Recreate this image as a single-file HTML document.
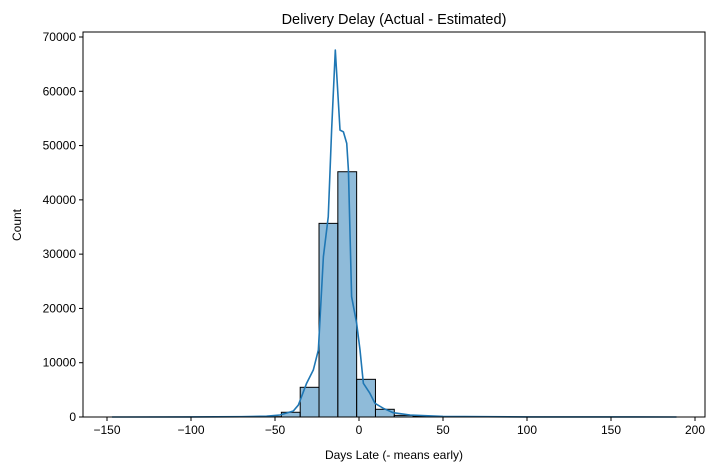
<!DOCTYPE html>
<html><head><meta charset="utf-8"><style>
body{margin:0;background:#fff;font-family:"Liberation Sans","DejaVu Sans",sans-serif;}
svg text{font-family:"Liberation Sans","DejaVu Sans",sans-serif;fill:#000;}
</style></head><body>
<svg id="chart" width="718" height="470" viewBox="0 0 718 470" xmlns="http://www.w3.org/2000/svg">
<rect width="718" height="470" fill="#fff"/>
<text x="394" y="24" font-size="14.5" text-anchor="middle">Delivery Delay (Actual - Estimated)</text>
<text x="394" y="459" font-size="12" text-anchor="middle">Days Late (- means early)</text>
<text transform="translate(21,225) rotate(-90)" font-size="12" text-anchor="middle">Count</text>
<g id="bars"></g><g id="kde"></g><g id="axes"></g>
</svg>
<script>
const binStart = -147;
const binWidth = 11.2;
const counts = [2,2,3,3,4,5,8,20,60,870,5470,35670,45180,6940,1420,300,120,60,30,20,12,8,5,4,3,3,2,2,2,2];
const kdeX = [-147,-100,-70,-55,-47,-39.1,-36.1,-31.2,-27.2,-24.2,-21.2,-18.3,-16.3,-14.1,-11.3,-9.3,-7.3,-6.3,-4.4,-1.4,0.6,2.6,6.5,9.5,14.5,20.4,30.4,50,100,189];
const kdeY = [0,10,50,150,370,1100,2200,6200,8650,12340,29520,36890,52850,67590,52850,52540,50400,45490,22160,17250,12340,6200,4360,2520,1600,790,370,100,20,0];
const xTicks = [-150,-100,-50,0,50,100,150,200];
const yTicks = [0,10000,20000,30000,40000,50000,60000,70000];
const L=83,R=705,T=32,B=417;
const xS=v=>359+v*1.68;
const yS=v=>B-v*380/70000;
const NS="http://www.w3.org/2000/svg";
function mk(t,a,p){const e=document.createElementNS(NS,t);for(const k in a)e.setAttribute(k,a[k]);p.appendChild(e);return e;}
const bars=document.getElementById('bars');
counts.forEach((c,i)=>{
 const x0=xS(binStart+i*binWidth),x1=xS(binStart+(i+1)*binWidth);
 const r=mk('rect',{x:x0,y:yS(c),width:x1-x0,height:B-yS(c),fill:'rgba(31,119,180,0.5)',stroke:'#000','stroke-width':1},bars);
 
 
});
const kde=document.getElementById('kde');
const pl=mk('polyline',{points:kdeX.map((x,i)=>xS(x)+','+yS(kdeY[i])).join(' '),fill:'none',stroke:'#1f77b4','stroke-width':1.6,'stroke-linejoin':'round'},kde);


const ax=document.getElementById('axes');
const fr=mk('rect',{x:L,y:T,width:R-L,height:B-T,fill:'none',stroke:'#000','stroke-width':1},ax);


xTicks.forEach(v=>{
 const x=xS(v);
 mk('line',{x1:x,x2:x,y1:B,y2:B+4,stroke:'#000'},ax);
 const t=mk('text',{x:x,y:B+17,'font-size':12,'text-anchor':'middle'},ax);
 t.textContent=(v<0?'\u2212'+(-v):v);
 
 
});
yTicks.forEach(v=>{
 const y=yS(v);
 mk('line',{x1:L-4,x2:L,y1:y,y2:y,stroke:'#000'},ax);
 const t=mk('text',{x:L-7,y:y+4,'font-size':12,'text-anchor':'end'},ax);
 t.textContent=v;
 
 
});
</script>
</body></html>
